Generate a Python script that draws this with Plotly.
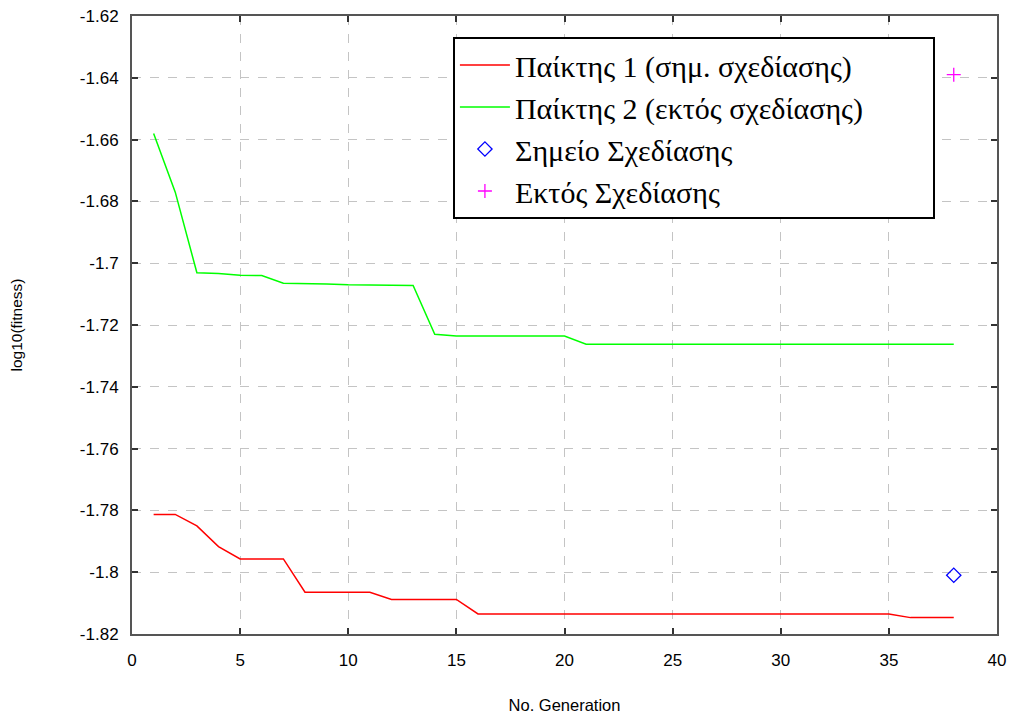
import plotly.graph_objects as go

generations = list(range(1, 39))

player1 = [-1.7813, -1.7813, -1.7850, -1.7917, -1.7957, -1.7957, -1.7957,
           -1.8065, -1.8065, -1.8065, -1.8065, -1.8088, -1.8088, -1.8088, -1.8088,
           -1.8135, -1.8135, -1.8135, -1.8135, -1.8135, -1.8135, -1.8135, -1.8135,
           -1.8135, -1.8135, -1.8135, -1.8135, -1.8135, -1.8135, -1.8135, -1.8135,
           -1.8135, -1.8135, -1.8135, -1.8135, -1.8147, -1.8147, -1.8147]

player2 = [-1.6580, -1.6770, -1.7031, -1.7033, -1.7039, -1.7040, -1.7065,
           -1.7065, -1.7067, -1.7070, -1.7071, -1.7072, -1.7072, -1.7230, -1.7236,
           -1.7236, -1.7236, -1.7236, -1.7236, -1.7236, -1.7262, -1.7262, -1.7262,
           -1.7262, -1.7262, -1.7262, -1.7262, -1.7262, -1.7262, -1.7262, -1.7262,
           -1.7262, -1.7262, -1.7262, -1.7262, -1.7262, -1.7262, -1.7262]

design_point_x = [38]
design_point_y = [-1.801]
off_design_x = [38]
off_design_y = [-1.639]

names = ["Παίκτης 1 (σημ. σχεδίασης)", "Παίκτης 2 (εκτός σχεδίασης)",
         "Σημείο Σχεδίασης", "Εκτός Σχεδίασης"]

x_ticks = [0, 5, 10, 15, 20, 25, 30, 35, 40]
y_ticks = [-1.62, -1.64, -1.66, -1.68, -1.70, -1.72, -1.74, -1.76, -1.78, -1.80, -1.82]
y_tick_labels = ["-1.62", "-1.64", "-1.66", "-1.68", "-1.7", "-1.72", "-1.74",
                 "-1.76", "-1.78", "-1.8", "-1.82"]

fig = go.Figure()
fig.add_trace(go.Scatter(x=generations, y=player1, mode="lines", name=names[0],
                         line=dict(color="#ff0000", width=1.5)))
fig.add_trace(go.Scatter(x=generations, y=player2, mode="lines", name=names[1],
                         line=dict(color="#00ff00", width=1.5)))
fig.add_trace(go.Scatter(x=design_point_x, y=design_point_y, mode="markers", name=names[2],
                         marker=dict(symbol="diamond-open", size=11, color="#0000ff",
                                     line=dict(width=1.3, color="#0000ff"))))
fig.add_trace(go.Scatter(x=off_design_x, y=off_design_y, mode="markers", name=names[3],
                         marker=dict(symbol="cross-thin", size=10, color="#ff00ff",
                                     line=dict(width=1.3, color="#ff00ff"))))

axis_common = dict(
    showline=True, linecolor="#555555", linewidth=2, mirror="ticks",
    ticks="inside", ticklen=6, tickwidth=1.5, tickcolor="#333333",
    showgrid=True, gridcolor="#c4c4c4", griddash="dash", gridwidth=1,
    zeroline=False, automargin=False,
    tickfont=dict(family="Liberation Sans, Arial", size=17, color="#000000"),
)

fig.update_xaxes(range=[0, 40], tickvals=x_ticks, ticklabelstandoff=10,
                 title=dict(text="No. Generation",
                            font=dict(family="Liberation Sans, Arial", size=16.5, color="#000000"),
                            standoff=30),
                 **axis_common)
fig.update_yaxes(range=[-1.82, -1.62], tickvals=y_ticks, ticktext=y_tick_labels,
                 ticklabelstandoff=8,
                 title=dict(text="log10(fitness)",
                            font=dict(family="Liberation Sans, Arial", size=15.5, color="#000000"),
                            standoff=53),
                 **axis_common)

fig.update_layout(
    width=1013, height=718,
    margin=dict(l=132, r=16, t=16, b=84),
    paper_bgcolor="white", plot_bgcolor="white",
    legend=dict(x=0.371, y=0.966, xanchor="left", yanchor="top",
                orientation="h", entrywidth=413, entrywidthmode="pixels",
                bgcolor="white", bordercolor="#000000", borderwidth=2,
                font=dict(family="Liberation Serif, Times New Roman", size=30, color="#000000"),
                itemwidth=50, tracegroupgap=0),
    showlegend=True,
)

fig.write_html("out.html", config={"displayModeBar": False},
               post_script="document.body.style.margin='0';")
